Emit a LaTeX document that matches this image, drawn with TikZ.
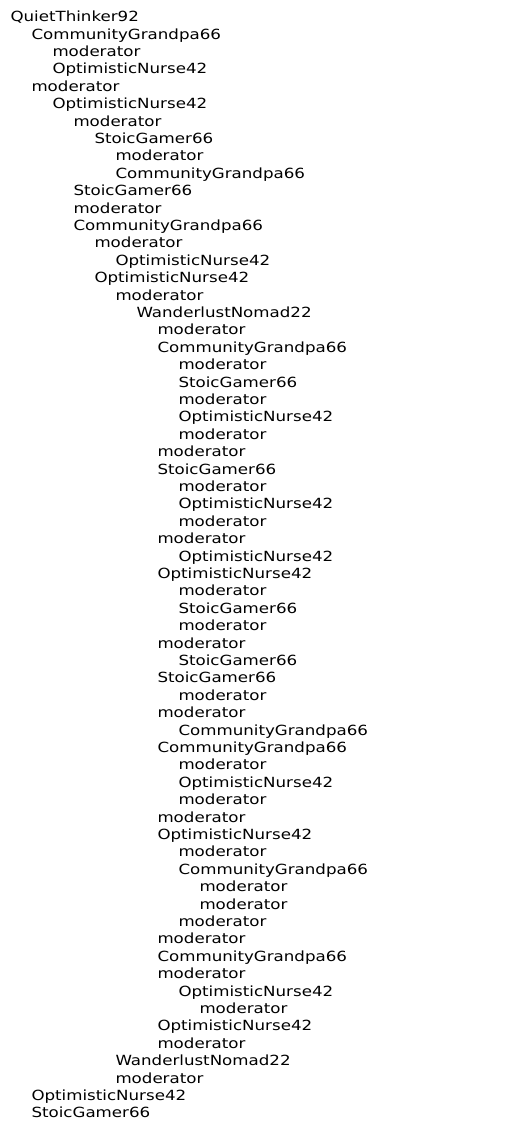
\documentclass[tikz,border=0pt]{standalone}
\usepackage{fontspec}
\setmainfont{DejaVu Sans}[FakeStretch=1.19]
\tikzset{item/.style={anchor=base west, inner sep=0pt, outer sep=0pt, text=black, font=\fontsize{14}{14}\selectfont}}
\begin{document}
\begin{tikzpicture}[x=1pt,y=1pt]
\useasboundingbox[fill=white] (0,0) rectangle (515,-1148);
\foreach \lv/\txt [count=\i] in {
0/QuietThinker92,
1/CommunityGrandpa66,
2/moderator,
2/OptimisticNurse42,
1/moderator,
2/OptimisticNurse42,
3/moderator,
4/StoicGamer66,
5/moderator,
5/CommunityGrandpa66,
3/StoicGamer66,
3/moderator,
3/CommunityGrandpa66,
4/moderator,
5/OptimisticNurse42,
4/OptimisticNurse42,
5/moderator,
6/WanderlustNomad22,
7/moderator,
7/CommunityGrandpa66,
8/moderator,
8/StoicGamer66,
8/moderator,
8/OptimisticNurse42,
8/moderator,
7/moderator,
7/StoicGamer66,
8/moderator,
8/OptimisticNurse42,
8/moderator,
7/moderator,
8/OptimisticNurse42,
7/OptimisticNurse42,
8/moderator,
8/StoicGamer66,
8/moderator,
7/moderator,
8/StoicGamer66,
7/StoicGamer66,
8/moderator,
7/moderator,
8/CommunityGrandpa66,
7/CommunityGrandpa66,
8/moderator,
8/OptimisticNurse42,
8/moderator,
7/moderator,
7/OptimisticNurse42,
8/moderator,
8/CommunityGrandpa66,
9/moderator,
9/moderator,
8/moderator,
7/moderator,
7/CommunityGrandpa66,
7/moderator,
8/OptimisticNurse42,
9/moderator,
7/OptimisticNurse42,
7/moderator,
5/WanderlustNomad22,
5/moderator,
1/OptimisticNurse42,
1/StoicGamer66}
{
  \node[item] (n\i) at ({10.5+21*\lv}, {-21.7-17.4*(\i-1)}) {\txt};
}
\end{tikzpicture}
\end{document}
